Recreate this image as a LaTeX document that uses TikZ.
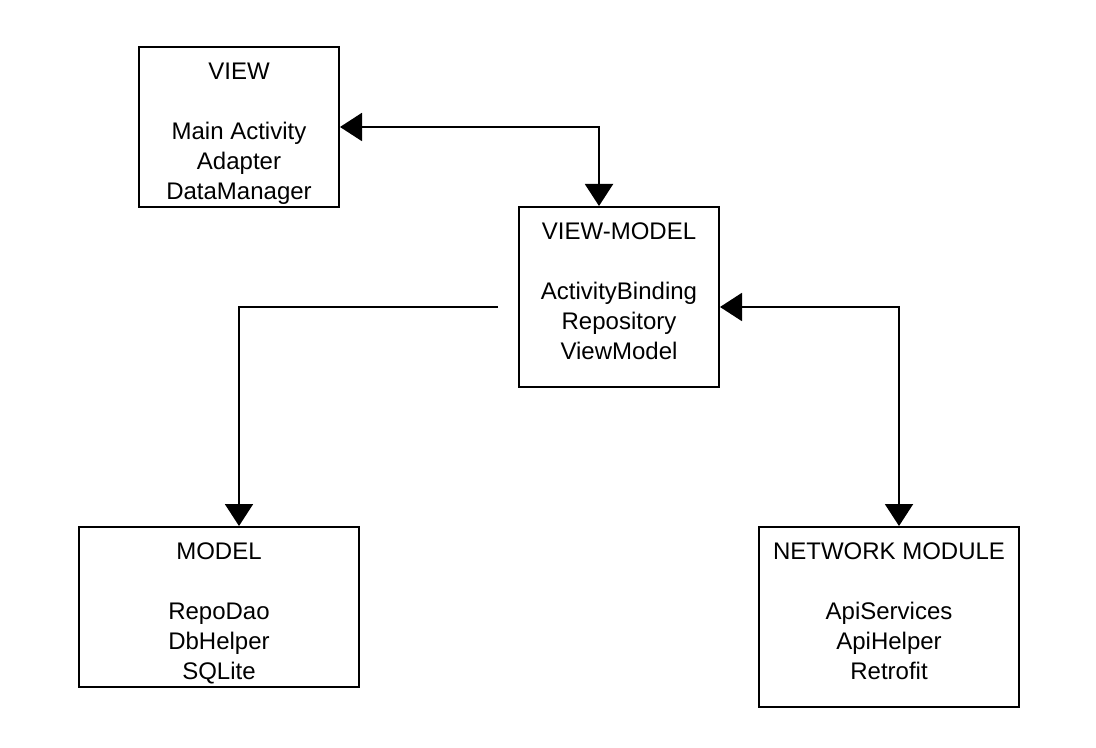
\documentclass[tikz,border=0pt]{standalone}
\usepackage{fontspec}
\setmainfont{Liberation Sans}
\usetikzlibrary{positioning,arrows.meta}
\begin{document}
\begin{tikzpicture}[x=0.5pt,y=-0.5pt,
	layer/.style={draw,line width=1pt,inner sep=0pt},
	lbl/.style={align=center,inner sep=0pt,font=\fontsize{12}{15}\selectfont},
	link/.style={line width=1pt,-{Triangle[length=11pt,width=14pt]}},
	twoway/.style={line width=1pt,{Triangle[length=11pt,width=14pt]}-{Triangle[length=11pt,width=14pt]}}]
	\useasboundingbox (0,0) rectangle (1096,748);
	% draw boxes
	\node[layer,minimum width=100pt,minimum height=80pt] (view) at (239,127) {};
	\node[layer,minimum width=100pt,minimum height=90pt] (vm) at (619,297) {};
	\node[layer,minimum width=140pt,minimum height=80pt] (model) at (219,607) {};
	\node[layer,minimum width=130pt,minimum height=90pt] (net) at (889,617) {};
	
	% box texts
	\node[lbl,below=8.2pt of view.north] (viewtxt) {VIEW\\[15pt]Main Activity\\Adapter\\DataManager};
	\node[lbl,below=8.2pt of vm.north] (vmtxt) {VIEW-MODEL\\[15pt]ActivityBinding\\Repository\\ViewModel};
	\node[lbl,below=8.2pt of model.north] (modeltxt) {MODEL\\[15pt]RepoDao\\DbHelper\\SQLite};
	\node[lbl,below=8.2pt of net.north] (nettxt) {NETWORK MODULE\\[15pt]ApiServices\\ApiHelper\\Retrofit};
	
	%%% arrows
	\coordinate (split) at (498,307);
	\draw[twoway] (view.east) -| ([xshift=-10pt]vm.north);
	\draw[link] (split) -| ([xshift=10pt]model.north);
	\draw[twoway] ([yshift=-5pt]vm.east) -| ([xshift=5pt]net.north);
\end{tikzpicture}
\end{document}
